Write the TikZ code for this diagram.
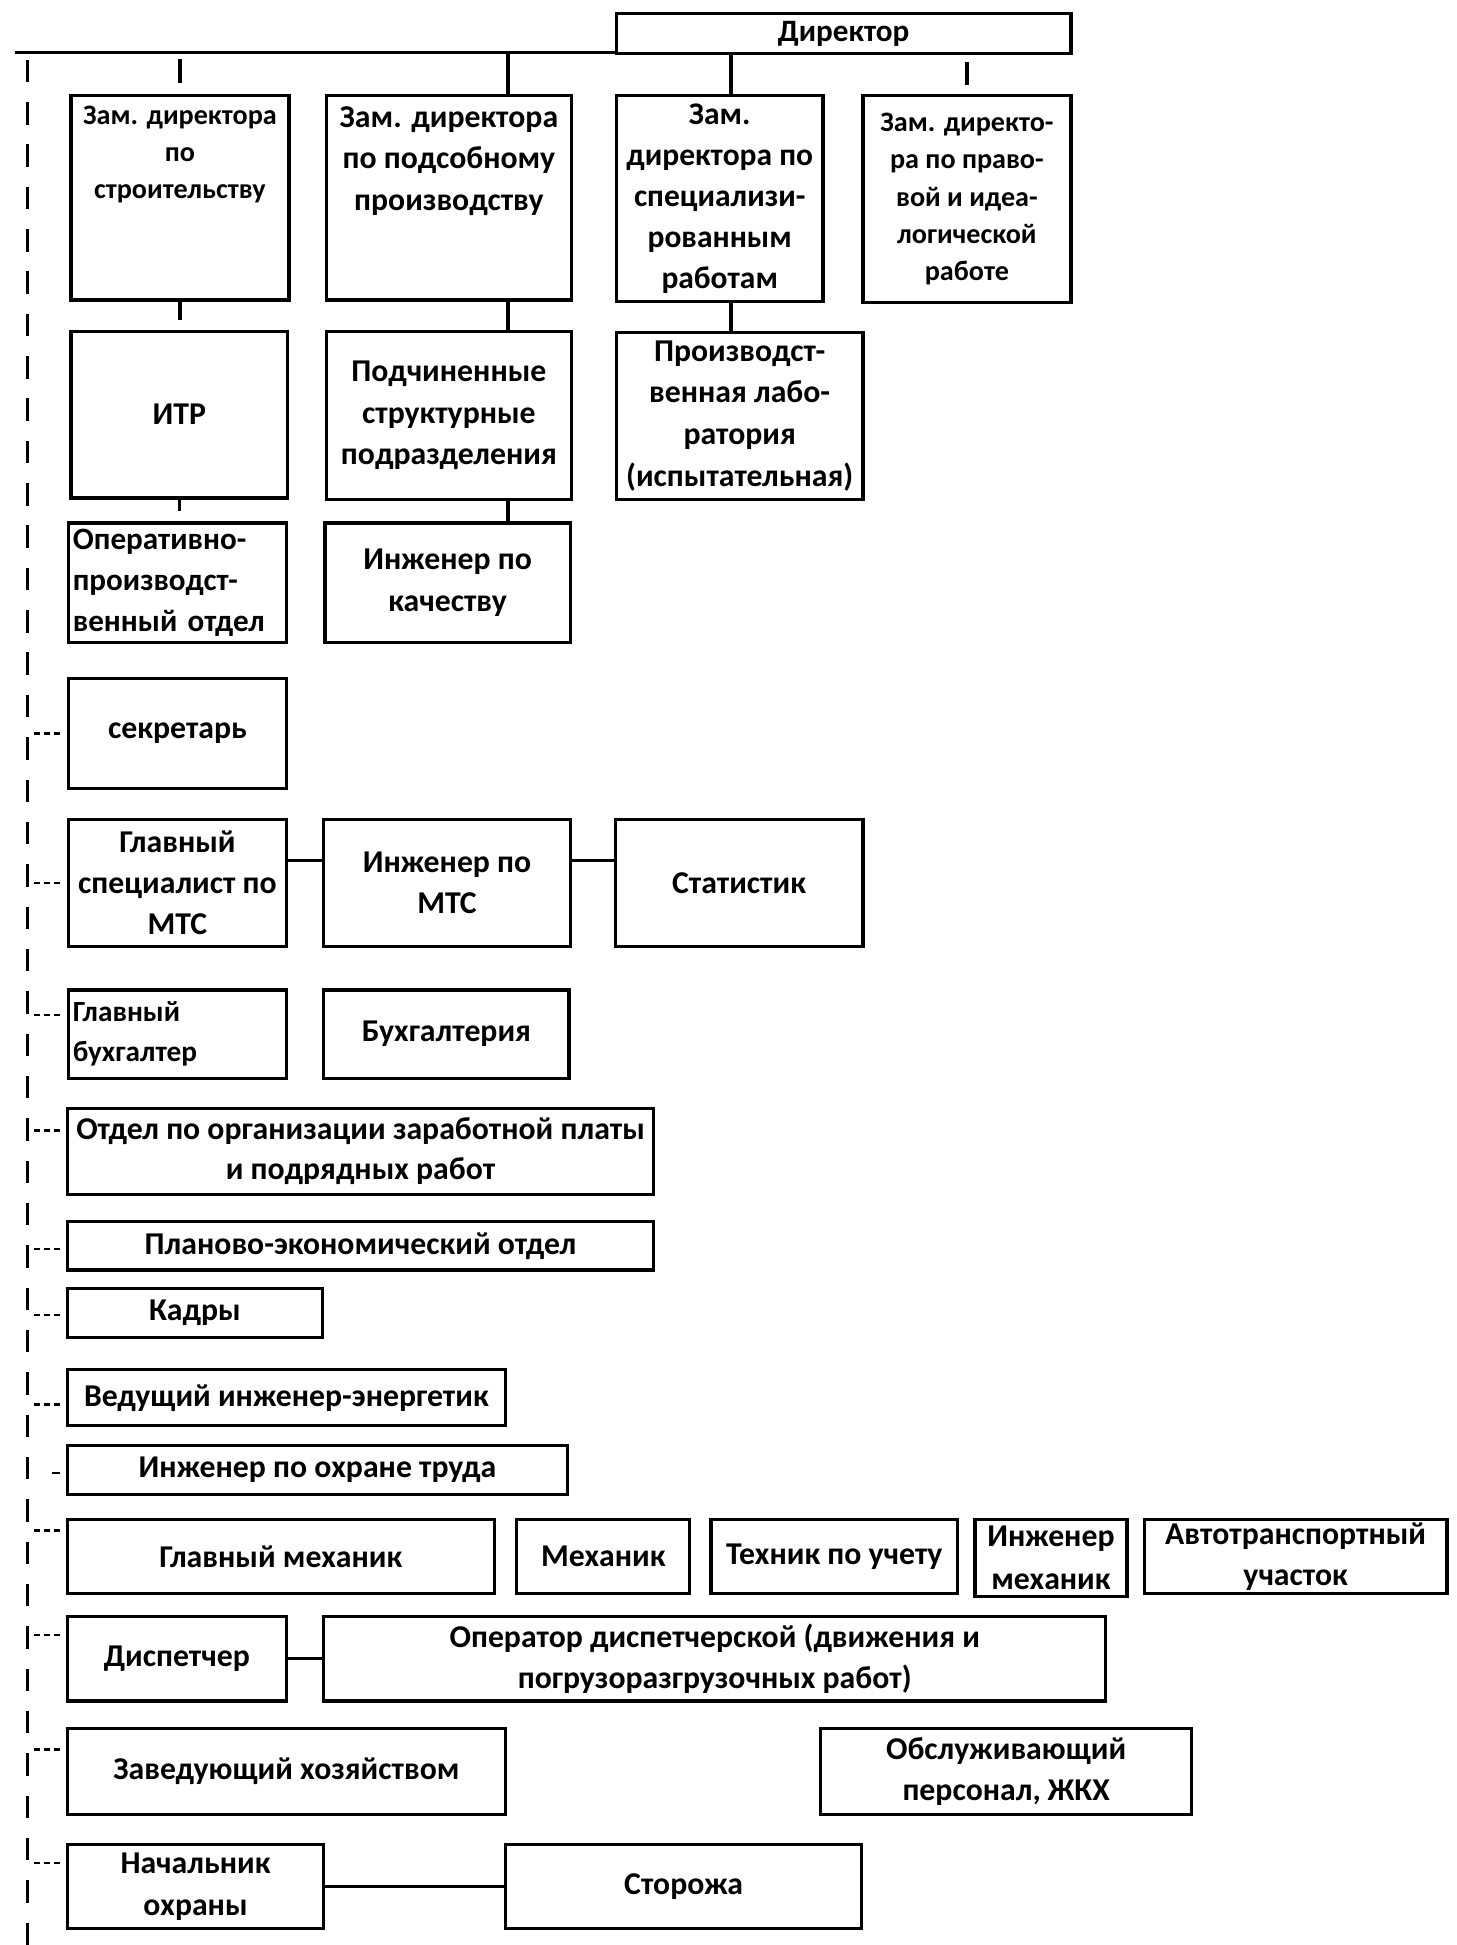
\documentclass[tikz,border=0pt]{standalone}
\usepackage{fontspec}
\setmainfont{Carlito}
\newcommand\mybox[7]{\node[bx,#6,minimum width={(#3)-(#1)},minimum height={(#4)-(#2)}] (#5) at ({((#1)+(#3))/2},{((#2)+(#4))/2}) {#7};}
\newcommand\mytick[2]{\coordinate (t#1) at (27,#2); \draw[tickline] (t#1) -- (t#1 -| #1.west);}
\begin{document}
\begin{tikzpicture}[x=1pt,y=-1pt,line width=2.6pt,
  bx/.style={draw,rectangle,inner sep=0pt,outer sep=0pt,align=center},
  fs/.style args={#1/#2}{font=\fontsize{#1}{#2}\selectfont\bfseries},
  vdash/.style={line width=2.6pt,dash pattern=on 18pt off 16pt},
  tickline/.style={line width=2pt,dash pattern=on 5pt off 3pt,shorten >=6pt}]
\useasboundingbox[fill=white] (0,0) rectangle (1170,1562);

\mybox{495}{11}{860}{43}{dir}{fs=25/28}{Директор}
\mybox{57}{77}{232}{241}{z1}{fs=22.6/30}{\parbox[c][158pt][t]{172pt}{\vspace*{5pt}\centering Зам. директора\\по\\строительству}}
\mybox{262}{77}{459}{241}{z2}{fs=25.5/33}{\parbox[c][158pt][t]{194pt}{\vspace*{6pt}\centering Зам. директора\\по подсобному\\производству}}
\mybox{495}{77}{661}{242}{z3}{fs=25.3/33}{Зам.\\директора по\\специализи-\\рованным\\работам}
\mybox{693}{77}{860}{243}{z4}{fs=22.6/30}{Зам. директо-\\ра по право-\\вой и идеа-\\логической\\работе}
\mybox{57}{266}{231}{400}{itr}{fs=25.5/33}{ИТР}
\mybox{262}{266}{459}{401}{pod}{fs=25.5/33.5}{Подчиненные\\структурные\\подразделения}
\mybox{495}{267}{693}{401}{lab}{fs=25.5/33.5}{Производст-\\венная лабо-\\ратория\\(испытательная)}
\mybox{55}{420}{230}{516}{op}{fs=25/33,align=left,text width=168pt}{Оперативно-\\производст-\\венный отдел}
\mybox{261}{420}{458}{516}{kach}{fs=25.5/34}{Инженер по\\качеству}
\mybox{55}{545}{230}{633}{sec}{fs=25.5/33}{секретарь}
\mybox{55}{658}{230}{760}{gs}{fs=25.5/33}{Главный\\специалист по\\МТС}
\mybox{260}{658}{458}{760}{mts}{fs=25.5/33}{Инженер по\\МТС}
\mybox{494}{658}{693}{760}{stat}{fs=25.5/33}{Статистик}
\mybox{55}{795}{230}{866}{gb}{fs=23.5/32,align=left,text width=168pt}{Главный\\бухгалтер}
\mybox{260}{795}{457}{866}{buh}{fs=25.5/33}{Бухгалтерия}
\mybox{54}{890}{525}{959}{zp}{fs=25.5/32}{Отдел по организации заработной платы\\и подрядных работ}
\mybox{54}{981}{525}{1020}{pe}{fs=25.5/33}{Планово-экономический отдел}
\mybox{54}{1035}{259}{1074}{kadr}{fs=25.5/33}{Кадры}
\mybox{54}{1100}{406}{1145}{ve}{fs=25.5/33}{Ведущий инженер-энергетик}
\mybox{54}{1161}{456}{1200}{ot}{fs=25.5/33}{Инженер по охране труда}
\mybox{54}{1220}{397}{1280}{gm}{fs=25.5/33}{Главный механик}
\mybox{415}{1220}{554}{1280}{meh}{fs=25.5/33}{Механик}
\mybox{571}{1220}{769}{1280}{teh}{fs=25.5/33}{Техник по учету}
\mybox{783}{1220}{905}{1282}{im}{fs=25.5/34}{Инженер\\механик}
\mybox{919}{1220}{1162}{1280}{avt}{fs=25.5/33}{Автотранспортный\\участок}
\mybox{54}{1298}{230}{1366}{disp}{fs=25.5/33}{Диспетчер}
\mybox{260}{1298}{888}{1366}{oper}{fs=25.5/33}{Оператор диспетчерской (движения и\\погрузоразгрузочных работ)}
\mybox{54}{1388}{406}{1457}{zav}{fs=25.5/33}{Заведующий хозяйством}
\mybox{659}{1388}{957}{1457}{obs}{fs=25.5/33}{Обслуживающий\\персонал, ЖКХ}
\mybox{54}{1481}{260}{1549}{nach}{fs=25.5/34}{Начальник\\охраны}
\mybox{406}{1481}{692}{1549}{stor}{fs=25.5/33}{Сторожа}

% top line and vertical connectors
\coordinate (tl) at (12,42);
\draw (tl) -- (tl -| dir.south west);
\coordinate (c2) at (408,42);
\draw (c2) -- (c2 |- z2.north);
\draw (c2 |- z2.south) -- (c2 |- pod.north);
\draw (c2 |- pod.south) -- (c2 |- kach.north);
\coordinate (c3) at (587,43);
\draw (c3) -- (c3 |- z3.north);
\draw (c3 |- z3.south) -- (c3 |- lab.north);
\draw ([yshift=10pt]z1.north) -- ([yshift=30pt]z1.north);
\draw ([yshift=9pt]z4.north) -- ([yshift=27pt]z4.north);
\draw (z1.south) -- ([yshift=-16pt]z1.south);
\draw (itr.south) -- ([yshift=-10pt]itr.south);

% horizontal links
\coordinate (h1) at ([yshift=18pt]gs.east);
\draw (h1) -- (h1 -| mts.west);
\coordinate (h2) at ([yshift=18pt]mts.east);
\draw (h2) -- (h2 -| stat.west);
\draw (disp.east) -- (oper.west);
\draw (nach.east) -- (stor.west);

% left dashed line and ticks
\coordinate (vt) at (22,48);
\coordinate (vb) at (22,1562);
\draw[vdash] (vt) -- (vb);
\mytick{sec}{589}
\mytick{gs}{709}
\mytick{gb}{815}
\mytick{zp}{908}
\mytick{pe}{1003}
\mytick{kadr}{1056}
\mytick{ve}{1128}
\mytick{gm}{1229}
\mytick{disp}{1313}
\mytick{zav}{1405}
\mytick{nach}{1496}
\coordinate (tot) at (42,1183);
\draw[line width=2pt] (tot) -- (tot -| ot.west) [shorten >=6pt];
\end{tikzpicture}
\end{document}
